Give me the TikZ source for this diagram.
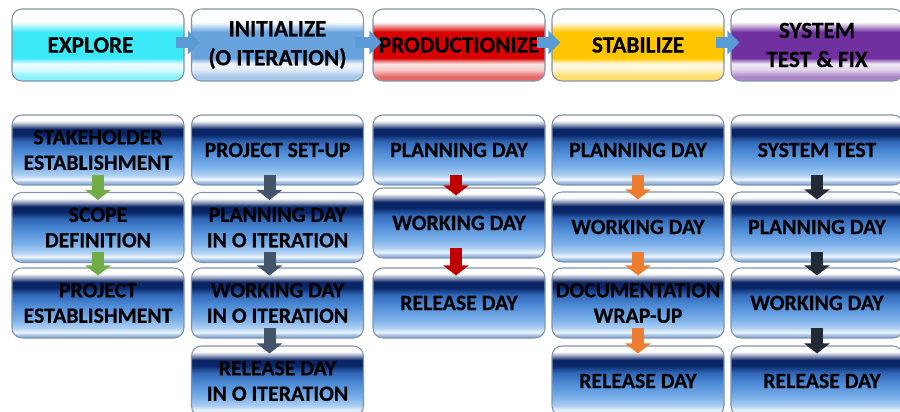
\documentclass[tikz,border=0pt]{standalone}
\usepackage{fontspec}
\setmainfont{Carlito}[BoldFeatures={FakeBold=0.5}]
\usepackage{tikz}
\usetikzlibrary{arrows.meta}

\definecolor{cyanphase}{HTML}{3BE9F8}
\definecolor{bluephase}{HTML}{68A3DE}
\definecolor{redphase}{HTML}{D80000}
\definecolor{yellowphase}{HTML}{FFC600}
\definecolor{purplephase}{HTML}{7030A0}
\definecolor{navy}{HTML}{0A2566}
\definecolor{deepblue}{HTML}{2F66B5}
\definecolor{midblue}{HTML}{4F8DD8}
\definecolor{lightblue}{HTML}{7DB2EA}
\definecolor{paleblue}{HTML}{9EC0E6}
\definecolor{edgegray}{HTML}{8093AA}
\definecolor{topflow}{HTML}{5B9BD5}
\definecolor{greenflow}{HTML}{70AD47}
\definecolor{slateflow}{HTML}{44546A}
\definecolor{redflow}{HTML}{C00000}
\definecolor{orangeflow}{HTML}{ED7D31}
\definecolor{darkflow}{HTML}{222A35}

% glossy shadings
\newcommand{\phaseshading}[2]{%
  \pgfdeclareverticalshading{#1}{100bp}{color(0bp)=(#2!55!white); color(25bp)=(#2!55!white);
    color(28bp)=(#2!60!white); color(33bp)=(#2!20!white); color(37bp)=(#2!10!white);
    color(41bp)=(#2); color(59bp)=(#2); color(66bp)=(white); color(100bp)=(white)}}
\phaseshading{exploreshade}{cyanphase}
\phaseshading{initshade}{bluephase}
\phaseshading{prodshade}{redphase}
\phaseshading{stabshade}{yellowphase}
\phaseshading{sysshade}{purplephase}
\pgfdeclareverticalshading{dayshade}{100bp}{color(0bp)=(paleblue!70!deepblue); color(25bp)=(paleblue!70!deepblue);
  color(27bp)=(paleblue); color(29bp)=(white!85!paleblue); color(32bp)=(white!40!lightblue);
  color(38bp)=(lightblue); color(48bp)=(midblue); color(56bp)=(deepblue); color(61bp)=(navy);
  color(65bp)=(navy); color(68bp)=(navy!45!white); color(71bp)=(white); color(100bp)=(white)}

\tikzset{
  phase/.style={rounded corners=0.2cm, draw=edgegray, line width=0.6pt, shading=#1,
    minimum width=3.44cm, minimum height=1.44cm, inner sep=0pt, align=center,
    font=\fontsize{13.2}{16.5}\selectfont\bfseries},
  dayblock/.style={rounded corners=0.2cm, draw=edgegray, line width=0.6pt, shading=dayshade,
    minimum width=3.44cm, minimum height=1.4cm, inner sep=0pt, align=center,
    font=\fontsize{12.4}{14.5}\selectfont\bfseries},
  downarrow/.style={draw=#1, line width=0.24cm, -{Triangle[width=0.5cm,length=0.2cm]},
    shorten <=-0.22cm, shorten >=-0.16cm},
  nextarrow/.style={draw=#1, line width=0.22cm, -{Triangle[width=0.46cm,length=0.24cm]},
    shorten <=-0.18cm, shorten >=-0.18cm}
}

\begin{document}
\begin{tikzpicture}
        \useasboundingbox (0,0) rectangle (18,-8.24);

        % phases
        \node[phase=exploreshade] (explore) at (1.96,-0.9) {EXPLORE\hspace{0.3cm}};
        \node[phase=initshade] (init) at (5.55,-0.9) {INITIALIZE\\(O ITERATION)};
        \node[phase=prodshade] (prod) at (9.18,-0.9) {PRODUCTIONIZE};
        \node[phase=stabshade] (stab) at (12.76,-0.9) {STABILIZE};
        \node[phase=sysshade] (systest) at (16.34,-0.9) {SYSTEM\\TEST \& FIX};

        \draw[nextarrow=topflow] ([yshift=0.05cm]explore.east) -- ([yshift=0.05cm]init.west);
        \draw[nextarrow=topflow] ([yshift=0.05cm]init.east) -- ([yshift=0.05cm]prod.west);
        \draw[nextarrow=topflow] ([yshift=0.05cm]prod.east) -- ([yshift=0.05cm]stab.west);
        \draw[nextarrow=topflow] ([yshift=0.05cm]stab.east) -- ([yshift=0.05cm]systest.west);

        % explore
        \node[dayblock] (e1) at (1.96,-3.0) {STAKEHOLDER\\ESTABLISHMENT};
        \node[dayblock] (e2) at (1.96,-4.55) {SCOPE\\DEFINITION};
        \node[dayblock] (e3) at (1.96,-6.06) {PROJECT\\ESTABLISHMENT};
        \draw[downarrow=greenflow] (e1) -- (e2);
        \draw[downarrow=greenflow] (e2) -- (e3);

        % initialize
        \node[dayblock] (i1) at (5.55,-3.0) {PROJECT SET-UP};
        \node[dayblock] (i2) at (5.55,-4.55) {PLANNING DAY\\IN O ITERATION};
        \node[dayblock] (i3) at (5.55,-6.06) {WORKING DAY\\IN O ITERATION};
        \node[dayblock] (i4) at (5.55,-7.62) {RELEASE DAY\\IN O ITERATION};
        \draw[downarrow=slateflow] ([xshift=-0.16cm]i1.south) -- ([xshift=-0.16cm]i2.north);
        \draw[downarrow=slateflow] ([xshift=-0.16cm]i2.south) -- ([xshift=-0.16cm]i3.north);
        \draw[downarrow=slateflow] ([xshift=-0.16cm]i3.south) -- ([xshift=-0.16cm]i4.north);

        % productionize
        \node[dayblock] (p1) at (9.18,-3.0) {PLANNING DAY};
        \node[dayblock] (p2) at (9.18,-4.46) {WORKING DAY};
        \node[dayblock] (p3) at (9.18,-6.06) {RELEASE DAY};
        \draw[downarrow=redflow] ([xshift=-0.06cm]p1.south) -- ([xshift=-0.06cm]p2.north);
        \draw[downarrow=redflow] ([xshift=-0.06cm]p2.south) -- ([xshift=-0.06cm]p3.north);

        % stabilize
        \node[dayblock] (s1) at (12.76,-3.0) {PLANNING DAY};
        \node[dayblock] (s2) at (12.76,-4.54) {WORKING DAY};
        \node[dayblock] (s3) at (12.76,-6.06) {DOCUMENTATION\\WRAP-UP};
        \node[dayblock] (s4) at (12.76,-7.62) {RELEASE DAY};
        \draw[downarrow=orangeflow] (s1) -- (s2);
        \draw[downarrow=orangeflow] (s2) -- (s3);
        \draw[downarrow=orangeflow] (s3) -- (s4);

        % system test & fix
        \node[dayblock] (t1) at (16.34,-3.0) {SYSTEM TEST};
        \node[dayblock] (t2) at (16.34,-4.54) {PLANNING DAY};
        \node[dayblock] (t3) at (16.34,-6.06) {WORKING DAY};
        \node[dayblock] (t4) at (16.34,-7.62) {\hspace{0.2cm}RELEASE DAY};
        \draw[downarrow=darkflow] (t1) -- (t2);
        \draw[downarrow=darkflow] (t2) -- (t3);
        \draw[downarrow=darkflow] (t3) -- (t4);
      \end{tikzpicture}
\end{document}
